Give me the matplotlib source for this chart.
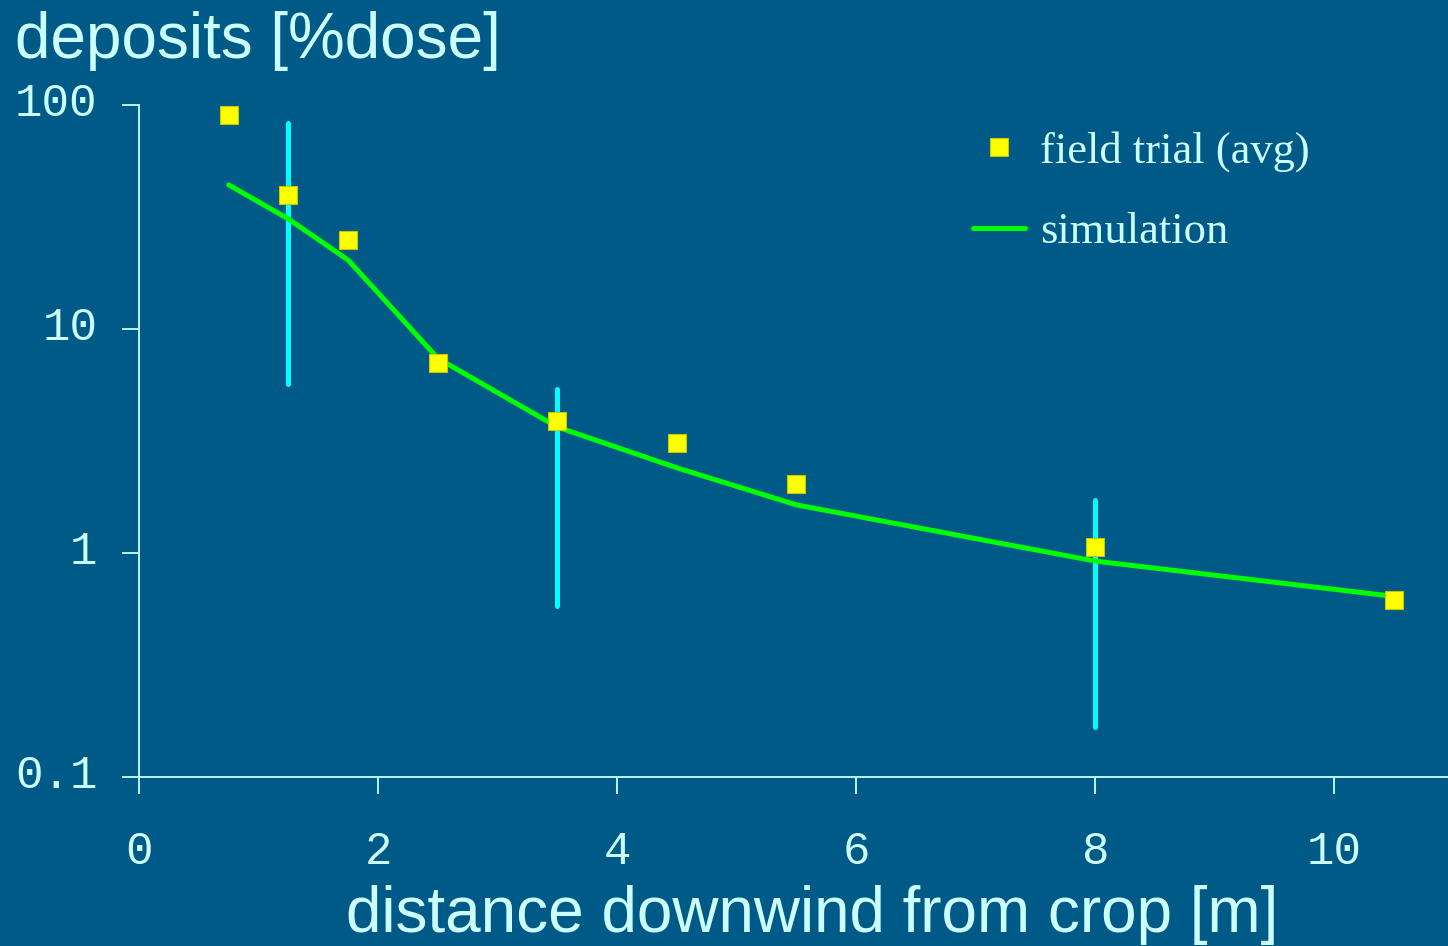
import numpy as np
import matplotlib.pyplot as plt
import matplotlib.transforms as mtransforms

# field trial averages
trial_x = [0.75, 1.25, 1.75, 2.5, 3.5, 4.5, 5.5, 8.0, 10.5]
trial_y = [90, 39.5, 25, 7.05, 3.9, 3.1, 2.03, 1.06, 0.62]

# simulation
sim_x = [0.75, 1.25, 1.75, 2.5, 3.5, 4.5, 5.5, 8.0, 10.5]
sim_y = [44, 31, 20.3, 7.4, 3.65, 2.4, 1.64, 0.92, 0.64]

# error ranges (min/max) at some distances
err_x = [1.25, 3.5, 8.0]
err_lo = [5.7, 0.58, 0.167]
err_hi = [83, 5.4, 1.72]

bg = '#005a87'
fg = '#ccffff'

fig = plt.figure(figsize=(14.48, 9.46), dpi=100, facecolor=bg)
ax = fig.add_axes([139/1448, 1 - 777/946, 1 - 139/1448, (777 - 105)/946])
ax.set_facecolor(bg)

ax.vlines(err_x, err_lo, err_hi, color='#00ffff', linewidth=3.6, capstyle='round', zorder=2)
ax.plot(sim_x, sim_y, color='#00ff00', linewidth=3.6, solid_capstyle='round',
        label='simulation', zorder=3)
ax.plot(trial_x, trial_y, linestyle='none', marker='s', markersize=13,
        markerfacecolor='#ffff00', markeredgecolor='#c8c800', markeredgewidth=0.8,
        label='field trial (avg)', zorder=4, clip_on=False)

ax.set_yscale('log')
ax.set_ylim(0.1, 100)
ax.set_xlim(0, 10.95)
ax.set_xticks([0, 2, 4, 6, 8, 10])
ax.set_yticks([0.1, 1, 10, 100])
ax.set_yticklabels(['0.1', '1', '10', '100'])
ax.minorticks_off()

for s in ['top', 'right']:
    ax.spines[s].set_visible(False)
for s in ['left', 'bottom']:
    ax.spines[s].set_color(fg)
    ax.spines[s].set_linewidth(1.3)

mono = 'Liberation Mono'
ax.tick_params(axis='both', colors=fg, length=12, width=1.3, direction='out',
               labelsize=33, labelfontfamily=mono)
ax.tick_params(axis='x', pad=26)
ax.tick_params(axis='y', pad=18)

# y labels sit a bit above their ticks
offset = mtransforms.ScaledTranslation(0, 6/100, fig.dpi_scale_trans)
for lbl in ax.get_yticklabels():
    lbl.set_transform(lbl.get_transform() + offset)

h, l = ax.get_legend_handles_labels()
leg = ax.legend(h[::-1], l[::-1], loc='upper left', bbox_to_anchor=(933/1448, 1 - 91/946),
                bbox_transform=fig.transFigure, frameon=False, numpoints=1,
                handlelength=1.17, handletextpad=0.33, labelspacing=0.9,
                prop={'family': 'Liberation Serif', 'size': 32})
for t in leg.get_texts():
    t.set_color(fg)

fig.text(15/1448, 1 - 58/946, 'deposits [%dose]', color=fg, fontsize=46,
         family='Liberation Sans', ha='left', va='baseline')
fig.text(812/1448, 1 - 932/946, 'distance downwind from crop [m]', color=fg, fontsize=46,
         family='Liberation Sans', ha='center', va='baseline')

fig.savefig('out.png', dpi=100, facecolor=bg)
